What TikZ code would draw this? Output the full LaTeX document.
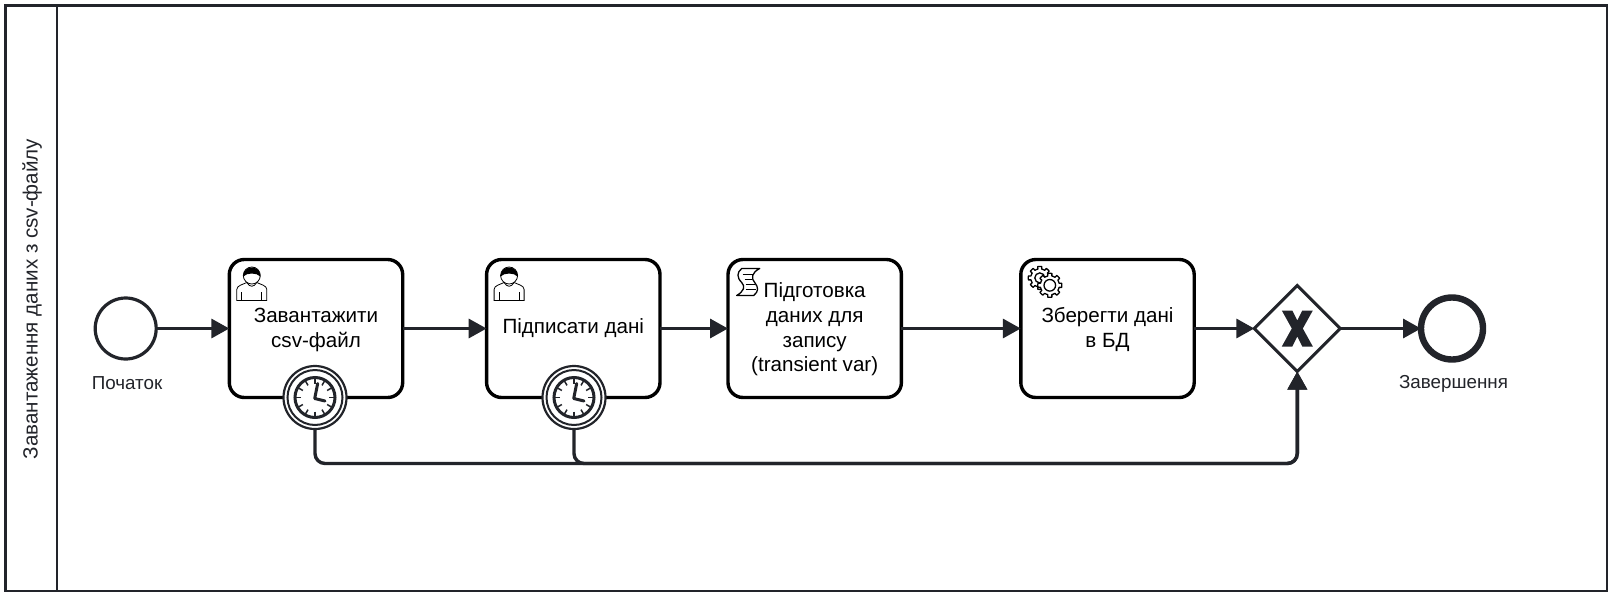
\documentclass[tikz,border=0pt]{standalone}
\usepackage{fontspec}
\setmainfont{Liberation Sans}
\usetikzlibrary{arrows.meta,shapes.geometric,calc}
\definecolor{ink}{HTML}{22242A}
\tikzset{
  every node/.style={inner sep=0pt,outer sep=0pt},
  task/.style={draw=black,line width=3.4pt,rounded corners=15pt,fill=white,minimum width=173.4pt,minimum height=138pt},
  tasklabel/.style={align=center,font=\fontsize{20.6}{24.8}\selectfont,text=black},
  startev/.style={circle,draw=ink,line width=3.2pt,minimum size=61pt,fill=white},
  endev/.style={circle,draw=ink,line width=6.4pt,minimum size=62pt,fill=white},
  gate/.style={diamond,aspect=1,draw=ink,line width=3pt,minimum size=86pt,fill=white},
  timer/.style={circle,draw=ink,line width=2.2pt,minimum size=63pt,fill=white},
  evlabel/.style={font=\fontsize{18.8}{22}\selectfont,text=ink},
  flow/.style={draw=ink,line width=3.4pt,-{Triangle[length=18pt,width=19pt]}},
  usericon/.pic={
    \draw[black,line width=.8pt,fill=white] (-15,17) -- (-15,6) .. controls (-15,2) and (-9,1) .. (-5,-1) .. controls (-2,4) and (2,4) .. (5,-1) .. controls (9,1) and (15,2) .. (15,6) -- (15,17) -- cycle;
    \draw[black,line width=.8pt] (-10,17) -- (-10,8) (10,17) -- (10,8);
    \draw[black,line width=.8pt,fill=white] (0,-8) circle (8.5);
    \fill[black] (-8.5,-7) .. controls (-9,-19) and (9,-19) .. (8.5,-7) .. controls (5,-11) and (-5,-11) .. (-8.5,-7) -- cycle;
  },
  scripticon/.pic={
    \draw[black,line width=1.3pt,fill=white,line join=round] (5,0) -- (23,0) .. controls (15,4) and (14,10) .. (18,14) .. controls (22,19) and (22,23) .. (17,27) -- (0,27) .. controls (7,23) and (9,18) .. (5,14) .. controls (0,9) and (0,4) .. (5,0) -- cycle;
    \draw[black,line width=1.1pt] (6,6) -- (16,6) (8,11) -- (15,11) (9,16) -- (18,16) (9,21) -- (19,21);
  },
  gearicon/.pic={
    \draw[black,line width=1.3pt,fill=white,line join=round] plot[samples=145,domain=0:360] (\x:{cos(8*\x)>0?11.5:9}) -- cycle;
    \draw[black,line width=1.3pt,fill=white] (0,0) circle (5);
    \begin{scope}[shift={(10,7.4)}]
    \draw[black,line width=1.3pt,fill=white,line join=round] plot[samples=145,domain=0:360] (\x:{cos(8*\x)>0?12:9.5}) -- cycle;
    \draw[black,line width=1.3pt,fill=white] (0,0) circle (5.8);
    \end{scope}
  },
  clockicon/.pic={
    \draw[ink,line width=2pt] (0,0) circle (27.5);
    \draw[ink,line width=3pt,fill=white] (0,0) circle (20);
    \foreach \a in {0,30,...,330}{\draw[ink,line width=1.5pt] (\a:14) -- (\a:20);}
    \draw[ink,line width=3pt,line cap=round,line join=round] (2.7,-14) -- (-0.3,1) -- (10,3.5);
  },
  xmark/.pic={
    \fill[ink] (-15.5,-18) -- (-5,-18) -- (0,-8) -- (5,-18) -- (15.5,-18) -- (5.5,0) -- (15.5,18) -- (5,18) -- (0,8) -- (-5,18) -- (-15.5,18) -- (-5.5,0) -- cycle;
  }
}
\begin{document}
\begin{tikzpicture}[x=1pt,y=-1pt]
\useasboundingbox (0,0) rectangle (1618,592);
\fill[white] (0,0) rectangle (1618,592);
\node[draw=ink,line width=2.6pt,fill=white,minimum width=1601.5pt,minimum height=586pt,anchor=north west] (pool) at (5.5,5.5) {};
\coordinate (hd) at (57,5.5);
\draw[ink,line width=2.6pt] (pool.north west -| hd) -- (pool.south west -| hd);
\node[rotate=90,font=\fontsize{20.6}{24}\selectfont,text=ink] (lanelabel) at (32,299) {Завантаження даних з csv-файлу};

\node[startev] (start) at (125.7,328.5) {};
\node[evlabel] (startlabel) at (127,383.5) {Початок};
\node[task] (t1) at (316,328.5) {};
\node[task] (t2) at (573.3,328.5) {};
\node[task] (t3) at (814.7,328.5) {};
\node[task] (t4) at (1107.5,328.5) {};
\node[tasklabel] (t1label) at ($(t1)+(0,1.5)$) {Завантажити\\csv-файл};
\node[tasklabel] (t2label) at ($(t2)+(0,0)$) {Підписати дані};
\node[tasklabel] (t3label) at ($(t3)+(0,0.8)$) {Підготовка\\даних для\\запису\\(transient var)};
\node[tasklabel] (t4label) at ($(t4)+(0,1)$) {Зберегти дані\\в БД};
\node[gate] (gw) at (1297.3,328.5) {};
\node[endev] (stop) at (1452,328.5) {};
\node[evlabel] (stoplabel) at (1453.5,384) {Завершення};
\node[timer] (b1) at (315,397.5) {};
\node[timer] (b2) at (574,397.5) {};
\pic at (b1) {clockicon};
\pic at (b2) {clockicon};
\pic at ($(t1.north west)+(22.5,24)$) {usericon};
\pic at ($(t2.north west)+(22.5,24)$) {usericon};
\pic at ($(t3.north west)+(8.7,9)$) {scripticon};
\pic at ($(t4.north west)+(19,18.4)$) {gearicon};
\pic at (gw) {xmark};

\draw[flow] (start) -- (t1);
\draw[flow] (t1) -- (t2);
\draw[flow] (t2) -- (t3);
\draw[flow] (t3) -- (t4);
\draw[flow] (t4) -- (gw);
\draw[flow] (gw) -- (stop);
\coordinate (lane) at (900,463.5);
\draw[flow,rounded corners=10pt] (b1) |- (lane) -| (gw);
\draw[flow,rounded corners=10pt] (b2) |- (lane) -| (gw);
\end{tikzpicture}
\end{document}
